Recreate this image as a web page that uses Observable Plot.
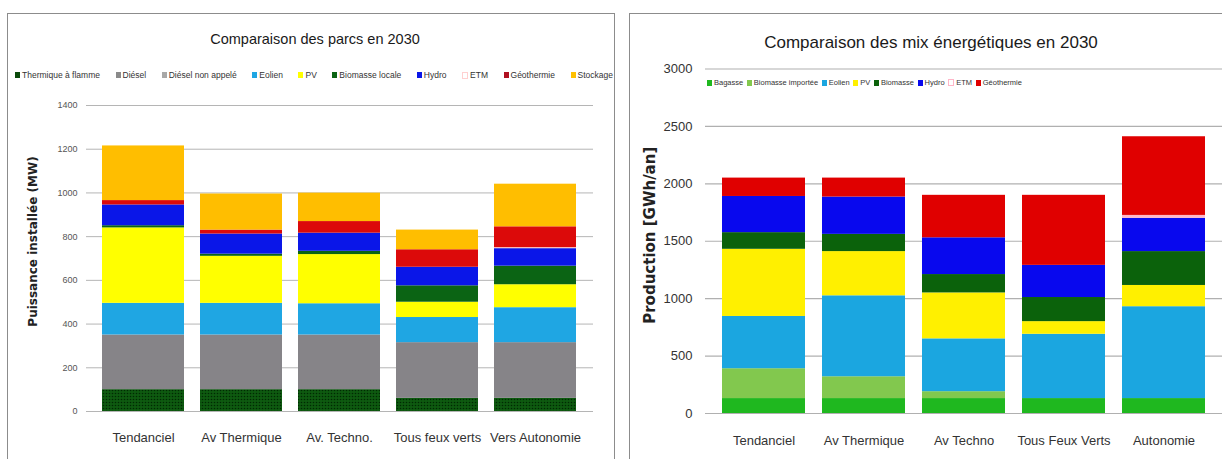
<!DOCTYPE html>
<html><head><meta charset="utf-8">
<script src="https://cdn.jsdelivr.net/npm/d3@7"></script>
<script src="https://cdn.jsdelivr.net/npm/@observablehq/plot@0.6"></script>
<style>
body{margin:0;background:#fff;width:1222px;height:459px;overflow:hidden;position:relative;font-family:"Liberation Sans",Arial,sans-serif;}
.frame{position:absolute;border:1px solid #8c8c8c;box-sizing:border-box;}
.title{position:absolute;color:#1a1a1a;white-space:nowrap;transform:translateX(-50%);}
.legend{position:absolute;display:flex;justify-content:space-between;align-items:center;font-size:8.5px;color:#333;white-space:nowrap;}
.legend span.it{display:flex;align-items:center;}
.legend i{display:inline-block;width:5px;height:6px;margin-right:2px;}
.chart{position:absolute;}
</style></head><body>
<div class="frame" style="left:7px;top:13px;width:608px;height:470px"></div>
<div class="frame" style="left:629px;top:13px;width:620px;height:470px"></div>
<div class="title" style="left:315px;top:31px;font-size:14.5px;">Comparaison des parcs en 2030</div>
<div class="title" style="left:931px;top:33px;font-size:17px;">Comparaison des mix énergétiques en 2030</div>
<div id="leg1" class="legend" style="left:15px;top:70px;width:598px;"></div>
<div id="leg2" class="legend" style="left:707px;top:78px;width:315px;font-size:7.5px;"></div>
<div id="c1" class="chart" style="left:0px;top:95px;"></div>
<div id="c2" class="chart" style="left:620px;top:60px;"></div>
<script>
// ---------- Chart 1 : Comparaison des parcs en 2030 (MW) ----------
const scenariosParc = ["Tendanciel","Av Thermique","Av. Techno.","Tous feux verts","Vers Autonomie"];
const techParc = ["Thermique à flamme","Diésel","Diésel non appelé","Eolien","PV","Biomasse locale","Hydro","ETM","Géothermie","Stockage"];
const colorsParc = ["url(#dotsGreen)","#868488","#a2a2a2","#1fa6e3","#ffff00","#0b6414","#0a16e8","#ffc6c6","#dc0a0a","#ffbe00"];
const legendParc = ["#0a4a0a","#8a8a8a","#a8a8a8","#1fa6e3","#ffff00","#0b6414","#0a16e8","#ffd0d0","#b01020","#ffc000"];
const thermique = [100,100,100,60,60];
const diesel = [250,250,250,255,255];
const dieselNonAppele = [0,0,0,0,0];
const eolienParc = [145,145,143,115,160];
const pvParc = [345,215,225,70,105];
const biomasseLocale = [10,10,15,75,85];
const hydroParc = [95,92,83,85,80];
const etmParc = [0,0,0,0,5];
const geothermieParc = [20,18,53,80,95];
const stockage = [250,165,130,90,195];
const ticksParc = [0,200,400,600,800,1000,1200,1400];

// ---------- Chart 2 : Comparaison des mix énergétiques en 2030 (GWh/an) ----------
const scenariosMix = ["Tendanciel","Av Thermique","Av Techno","Tous Feux Verts","Autonomie"];
const techMix = ["Bagasse","Biomasse importée","Eolien","PV","Biomasse","Hydro","ETM","Géothermie"];
const colorsMix = ["#1fb81f","#82c84e","#1ba6e0","#fff000","#0b620b","#0808ee","#ffb6c8","#e00000"];
const bagasse = [130,130,130,130,130];
const biomasseImportee = [260,190,60,0,0];
const eolienMix = [455,705,460,560,800];
const pvMix = [585,385,400,110,185];
const biomasseMix = [145,150,160,210,295];
const hydroMix = [315,325,320,280,290];
const etmMix = [0,0,0,0,25];
const geothermieMix = [160,165,370,610,685];
const ticksMix = [0,500,1000,1500,2000,2500,3000];

function longTable(scen, techs, series){
  const rows = [];
  techs.forEach((t,i)=>scen.forEach((s,j)=>rows.push({scenario:s, tech:t, value:series[i][j]})));
  return rows;
}
const dataParc = longTable(scenariosParc, techParc,
  [thermique,diesel,dieselNonAppele,eolienParc,pvParc,biomasseLocale,hydroParc,etmParc,geothermieParc,stockage]);
const dataMix = longTable(scenariosMix, techMix,
  [bagasse,biomasseImportee,eolienMix,pvMix,biomasseMix,hydroMix,etmMix,geothermieMix]);

const font = "'Liberation Sans', Arial, sans-serif";
const plain = d => String(d);

const p1 = Plot.plot({
  width: 615, height: 364,
  marginLeft: 86, marginRight: 22, marginTop: 10, marginBottom: 48,
  style: {fontFamily: font, color: "#333", background: "transparent"},
  x: {domain: scenariosParc, padding: 0.16, label: null},
  y: {domain: [0,1400], label: null},
  color: {domain: techParc, range: colorsParc},
  marks: [
    Plot.gridY(ticksParc, {stroke: "#b5b5b5", strokeOpacity: 1}),
    Plot.barY(dataParc, {x: "scenario", y: "value", fill: "tech", order: techParc}),
    Plot.axisY(ticksParc, {tickSize: 0, tickPadding: 9, fontSize: 9, label: null, tickFormat: plain, fill: "#555"}),
    Plot.axisX({tickSize: 0, tickPadding: 21, fontSize: 13, label: null, fill: "#333"}),
    Plot.text(["Puissance installée (MW)"], {frameAnchor: "left", textAnchor: "middle", dx: -53, dy: -17, rotate: -90, fontWeight: "bold", fontSize: 12, fontFamily: "DejaVu Sans", fill: "#222"})
  ]
});
p1.insertAdjacentHTML("afterbegin",
  '<defs><pattern id="dotsGreen" width="3" height="3" patternUnits="userSpaceOnUse"><rect width="3" height="3" fill="#0e5a10"/><circle cx="1.5" cy="1.5" r="0.8" fill="#002a02"/></pattern></defs>');
document.getElementById("c1").appendChild(p1);

const p2 = Plot.plot({
  width: 602, height: 399,
  marginLeft: 85, marginRight: 0, marginTop: 8.5, marginBottom: 46,
  style: {fontFamily: font, color: "#333", background: "transparent"},
  x: {domain: scenariosMix, padding: 0.17, label: null},
  y: {domain: [0,3000], label: null},
  color: {domain: techMix, range: colorsMix},
  marks: [
    Plot.gridY(ticksMix, {stroke: "#b0b0b0", strokeOpacity: 1, strokeWidth: 1.2}),
    Plot.barY(dataMix, {x: "scenario", y: "value", fill: "tech", order: techMix}),
    Plot.axisY(ticksMix, {tickSize: 0, tickPadding: 13, fontSize: 13, label: null, tickFormat: plain, fill: "#333"}),
    Plot.axisX({tickSize: 0, tickPadding: 22, fontSize: 13, label: null, fill: "#333"}),
    Plot.text(["Production [GWh/an]"], {frameAnchor: "left", textAnchor: "middle", dx: -55, dy: -6, rotate: -90, fontWeight: "bold", fontSize: 15, fontFamily: "DejaVu Sans", fill: "#222"})
  ]
});
document.getElementById("c2").appendChild(p2);

function legend(id, names, colors){
  const el = document.getElementById(id);
  names.forEach((n,i)=>{
    const it = document.createElement("span"); it.className = "it";
    const sw = document.createElement("i"); sw.style.background = colors[i];
    if (n === "ETM") { sw.style.background = "#fff"; sw.style.border = "1px solid " + colors[i]; sw.style.width="4px"; sw.style.height="5px"; }
    it.appendChild(sw); it.appendChild(document.createTextNode(n)); el.appendChild(it);
  });
}
legend("leg1", techParc, legendParc);
legend("leg2", techMix, colorsMix);
</script>
</body></html>
